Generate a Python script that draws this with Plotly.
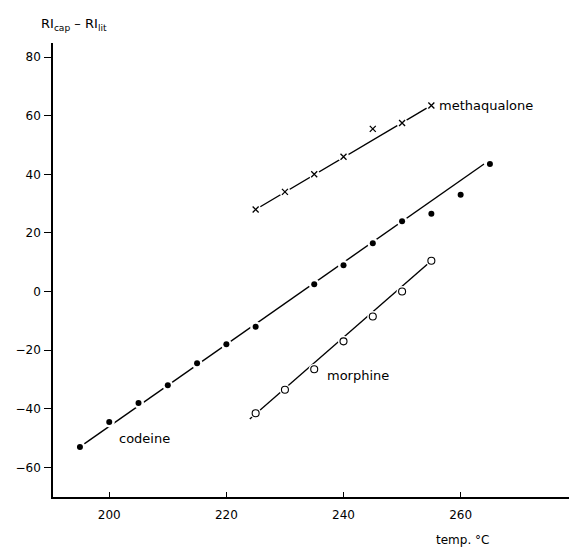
import plotly.graph_objects as go

# ---- data ----
codeine_x = [195, 200, 205, 210, 215, 220, 225, 235, 240, 245, 250, 255, 260, 265]
codeine_y = [-53, -44.5, -38, -32, -24.5, -18, -12, 2.5, 9, 16.5, 24, 26.5, 33, 43.5]
codeine_fit_x = [195, 264]
codeine_fit_y = [-53, 43.5]

methaqualone_x = [225, 230, 235, 240, 245, 250, 255]
methaqualone_y = [28, 34, 40, 46, 55.5, 57.5, 63.5]
methaqualone_fit_x = [225, 255]
methaqualone_fit_y = [28, 63.5]

morphine_x = [225, 230, 235, 240, 245, 250, 255]
morphine_y = [-41.5, -33.5, -26.5, -17, -8.5, 0, 10.5]
morphine_fit_x = [224, 255]
morphine_fit_y = [-43.5, 10.5]

x_ticks = [200, 220, 240, 260]
y_ticks = [-60, -40, -20, 0, 20, 40, 60, 80]

FONT = "DejaVu Sans"
fig = go.Figure()

line_style = dict(color="black", width=1.4)
for fx, fy in [(codeine_fit_x, codeine_fit_y),
               (methaqualone_fit_x, methaqualone_fit_y),
               (morphine_fit_x, morphine_fit_y)]:
    fig.add_trace(go.Scatter(x=fx, y=fy, mode="lines", line=line_style,
                             hoverinfo="skip", showlegend=False))

# white halos to break the lines around the markers
for px, py in [(codeine_x, codeine_y), (methaqualone_x, methaqualone_y),
               (morphine_x, morphine_y)]:
    fig.add_trace(go.Scatter(x=px, y=py, mode="markers",
                             marker=dict(symbol="circle", size=11, color="white"),
                             hoverinfo="skip", showlegend=False))

fig.add_trace(go.Scatter(x=codeine_x, y=codeine_y, mode="markers", name="codeine",
                         marker=dict(symbol="circle", size=6, color="black"),
                         showlegend=False))
fig.add_trace(go.Scatter(x=methaqualone_x, y=methaqualone_y, mode="markers",
                         name="methaqualone",
                         marker=dict(symbol="x-thin", size=6,
                                     line=dict(color="black", width=1.3)),
                         showlegend=False))
fig.add_trace(go.Scatter(x=morphine_x, y=morphine_y, mode="markers", name="morphine",
                         marker=dict(symbol="circle", size=7, color="white",
                                     line=dict(color="black", width=1.1)),
                         showlegend=False))

lab_font = dict(family=FONT, size=13, color="black")
fig.add_annotation(x=206, y=-50, text="codeine", showarrow=False, font=lab_font)
fig.add_annotation(x=242.5, y=-28.7, text="morphine", showarrow=False, font=lab_font)
fig.add_annotation(x=256, y=63.5, text="methaqualone", showarrow=False,
                   xanchor="left", font=lab_font)
fig.add_annotation(xref="paper", yref="paper", x=-0.027, y=1.04,
                   text="RI<sub>cap</sub> – RI<sub>lit</sub>", showarrow=False,
                   xanchor="left", yanchor="middle", font=lab_font)
fig.add_annotation(xref="paper", yref="paper", x=0.793, y=-0.095,
                   text="temp. °C", showarrow=False, xanchor="center",
                   yanchor="middle", font=dict(family=FONT, size=12, color="black"))

fig.update_layout(
    width=569, height=549,
    margin=dict(l=53, r=0, t=43, b=52),
    paper_bgcolor="white", plot_bgcolor="white",
    font=dict(family=FONT, size=12, color="black"),
    xaxis=dict(range=[190.4, 278.5], tickvals=x_ticks, ticks="inside", ticklen=5,
               tickwidth=1.2, tickcolor="black", showline=True, linecolor="black",
               linewidth=1.6, showgrid=False, zeroline=False,
               ticklabelstandoff=6, tickfont=dict(size=12)),
    yaxis=dict(range=[-70.1, 84.8], tickvals=y_ticks, ticks="outside", ticklen=7,
               tickwidth=1.2, tickcolor="black", showline=True, linecolor="black",
               linewidth=1.6, showgrid=False, zeroline=False,
               ticklabelstandoff=1, tickfont=dict(size=12)),
)

fig.write_html("out.html")
